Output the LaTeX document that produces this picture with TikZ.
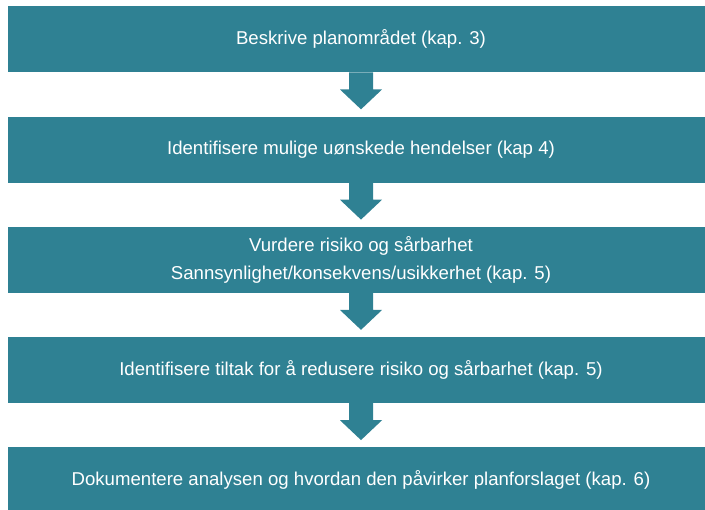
\documentclass[tikz,border=0pt]{standalone}
\usepackage{fontspec}
\setmainfont{Liberation Sans}
\usepackage{xcolor}
\usepackage{tikz}
\usetikzlibrary{positioning, calc}
\definecolor{stepteal}{RGB}{47,129,147}
\tikzstyle{stepbox} = [rectangle, minimum width=706pt, minimum height=66pt, inner sep=0pt, text centered, align=center, fill=stepteal, text=white, font=\fontsize{18.6}{28}\selectfont]
\tikzstyle{blockarrow} = [fill=stepteal]

\begin{document}
\begin{tikzpicture}[x=1pt, y=-1pt, node distance=110.25pt]

\useasboundingbox (0,0) rectangle (705,510);
\clip (0,0) rectangle (705,510);

\node (plan) [stepbox] at (361,39.3) {Beskrive planområdet (kap. 3)};
\node (hendelser) [stepbox, below of=plan] {Identifisere mulige uønskede hendelser (kap 4)};
\node (risiko) [stepbox, below of=hendelser] {Vurdere risiko og sårbarhet\\Sannsynlighet/konsekvens/usikkerhet (kap. 5)};
\node (tiltak) [stepbox, below of=risiko] {Identifisere tiltak for å redusere risiko og sårbarhet (kap. 5)};
\node (dok) [stepbox, below of=tiltak] {Dokumentere analysen og hvordan den påvirker planforslaget (kap. 6)};

% block arrows between the steps
\foreach \a/\b in {plan/hendelser, hendelser/risiko, risiko/tiltak, tiltak/dok}
  \fill [blockarrow] ($(\a.south)+(-12,0)$) -- ++(0,17) -- ++(-9,0)
    -- ($(\b.north)+(0,-7)$) -- ($(\a.south)+(21,17)$) -- ++(-9,0)
    -- ($(\a.south)+(12,0)$) -- cycle;

\end{tikzpicture}
\end{document}
